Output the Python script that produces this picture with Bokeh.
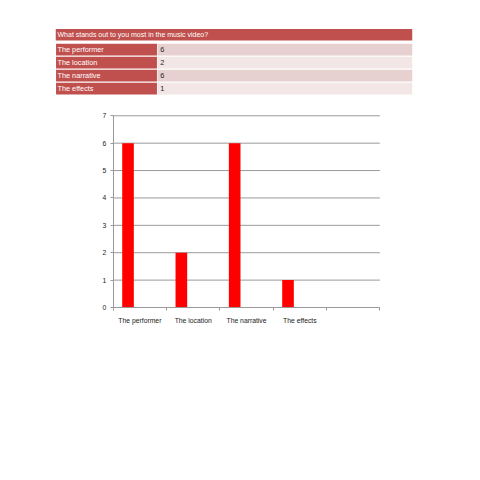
from bokeh.plotting import figure
from bokeh.models import Range1d, FixedTicker, ColumnDataSource
from bokeh.core.properties import value
from bokeh.embed import file_html
from bokeh.resources import INLINE
import numpy as np

question = "What stands out to you most in the music video?"
categories = ["The performer", "The location", "The narrative", "The effects"]
counts = [6, 2, 6, 1]
y_ticks = [0, 1, 2, 3, 4, 5, 6, 7]

FONT = "Liberation Sans"
RED_HEAD = "#c0504d"
ROW_DARK = "#e6d0d0"
ROW_LIGHT = "#f2e6e6"
GRID = "#9a9a9a"

# frame geometry (pixels)
FRAME_W = 357
CHART_H = 279           # from table top to y=0
BELOW = 33              # frame part below y=0 (for x labels)
FRAME_H = CHART_H + BELOW
AX_LEFT = 57.7          # chart axis x offset inside frame
SLOT = 53.33            # px per category slot
UNIT = 27.39            # px per y unit
ROW = 13.0              # table row pitch

n_slots = len(categories) + 1
x0 = -AX_LEFT / SLOT
x1 = (FRAME_W - AX_LEFT) / SLOT
ylo = -BELOW / UNIT
yhi = CHART_H / UNIT

p = figure(width=464, height=28 + FRAME_H + 40,
           x_range=Range1d(x0, x1), y_range=Range1d(ylo, yhi),
           output_backend="svg", toolbar_location=None,
           min_border_left=55, min_border_right=52,
           min_border_top=28, min_border_bottom=40)
p.outline_line_color = None
p.grid.visible = False

# ---------- table (own ranges) ----------
p.extra_x_ranges = {"tx": Range1d(0, 1)}
p.extra_y_ranges = {"ty": Range1d(FRAME_H / ROW - 0.48, -0.48)}
lw = 0.2857
row_y = [i + 1.15 for i in range(len(categories))]

p.rect(x=[0.5], y=[0], width=[1.0], height=0.9, fill_color=RED_HEAD, line_color=None,
       x_range_name="tx", y_range_name="ty")
p.text(x=[0.0056], y=[0], text=[question], text_baseline="middle",
       text_font=value(FONT), text_font_size="7px", text_color="white",
       x_range_name="tx", y_range_name="ty")

val_colors = [ROW_DARK if i % 2 == 0 else ROW_LIGHT for i in range(len(categories))]
p.rect(x=[lw / 2] * len(categories), y=row_y, width=lw - 0.003, height=0.9,
       fill_color=RED_HEAD, line_color=None, x_range_name="tx", y_range_name="ty")
p.rect(x=[(1 + lw) / 2] * len(categories), y=row_y, width=1 - lw, height=0.9,
       fill_color=val_colors, line_color=None, x_range_name="tx", y_range_name="ty")
p.text(x=[0.0056] * len(categories), y=row_y, text=categories,
       text_baseline="middle", text_font=value(FONT), text_font_size="7.3px",
       text_color="white", x_range_name="tx", y_range_name="ty")
p.text(x=[lw + 0.008] * len(categories), y=row_y, text=[str(c) for c in counts],
       text_baseline="middle", text_font=value(FONT), text_font_size="7.3px",
       text_color="#222222", x_range_name="tx", y_range_name="ty")

# ---------- chart ----------
p.segment(x0=[0] * len(y_ticks), x1=[n_slots] * len(y_ticks), y0=y_ticks, y1=y_ticks,
          line_color=GRID, line_width=1)

idx = np.arange(len(categories))
src = ColumnDataSource(dict(x=idx + 0.278, top=counts))
p.vbar(x="x", top="top", width=0.218, bottom=0, source=src,
       fill_color="#ff0000", line_color=None)

centers = [i + 0.5 for i in range(n_slots)]
p.xaxis.ticker = FixedTicker(ticks=centers, minor_ticks=list(range(n_slots + 1)))
p.xaxis.major_label_overrides = {c: (categories[i] if i < len(categories) else "")
                                 for i, c in enumerate(centers)}
p.xaxis.fixed_location = 0
p.xaxis.bounds = (0, n_slots)
p.xaxis.major_tick_out = 0
p.xaxis.major_tick_in = 0
p.xaxis.minor_tick_out = 3
p.xaxis.minor_tick_in = 0
p.xaxis.major_label_standoff = 6
p.xaxis.major_label_text_font_size = "6.8px"

p.yaxis.ticker = FixedTicker(ticks=y_ticks)
p.yaxis.fixed_location = 0
p.yaxis.bounds = (0, 7)
p.yaxis.major_tick_out = 3
p.yaxis.major_tick_in = 0
p.yaxis.minor_tick_out = 0
p.yaxis.minor_tick_in = 0
p.yaxis.major_label_standoff = 4
p.yaxis.major_label_text_font_size = "6.8px"

for ax in (p.xaxis, p.yaxis):
    ax.axis_line_color = GRID
    ax.major_tick_line_color = GRID
    ax.minor_tick_line_color = GRID
    ax.major_label_text_font = FONT
    ax.major_label_text_color = "#222222"

open("out.html", "w").write(file_html(p, INLINE))
